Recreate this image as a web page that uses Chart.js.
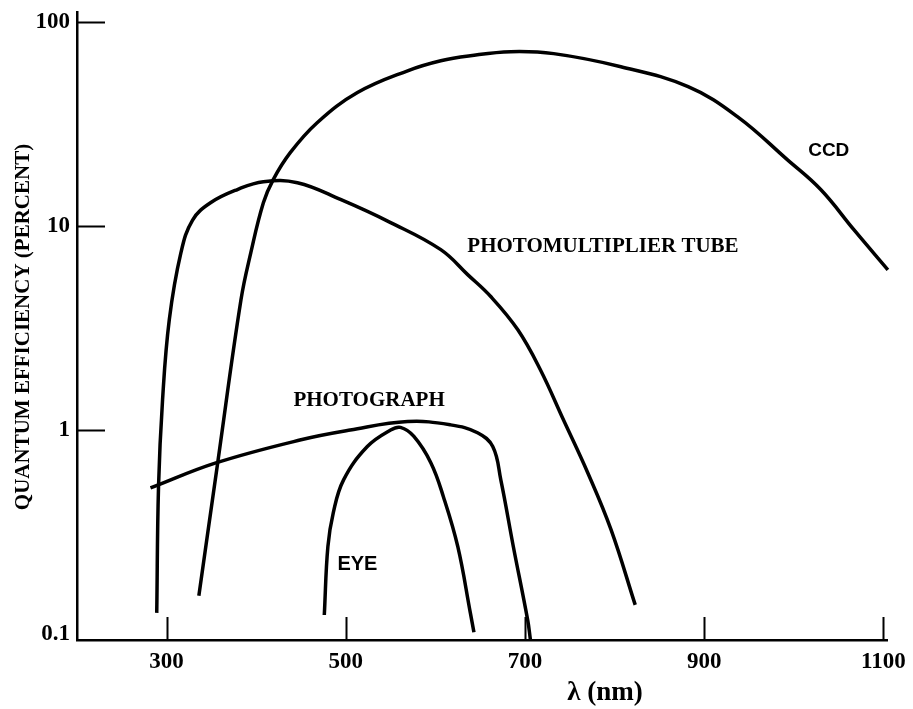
<!DOCTYPE html>
<html>
<head>
<meta charset="utf-8">
<script src="https://cdn.jsdelivr.net/npm/chart.js@4/dist/chart.umd.min.js"></script>
<style>
  body { margin: 0; background: #fff; }
  #wrap { width: 913px; height: 709px; }
</style>
</head>
<body>
<div id="wrap"><canvas id="qe" width="913" height="709"></canvas></div>
<script>
// wavelength (nm) / quantum efficiency (%)
const ccdWave = [336, 357, 383, 394, 408, 419, 438, 468, 513, 569, 606, 639, 684, 732, 807, 882, 937, 993, 1030, 1067, 1105];
const ccdQE   = [0.154, 0.69, 4.35, 7.4, 13.0, 16.9, 22.9, 32.1, 45.1, 57.7, 64.6, 68.4, 71.6, 70.0, 60.4, 48.2, 34.4, 21.1, 15.1, 9.6, 6.1];

const pmtWave = [289, 291, 295.5, 303, 316, 329, 349, 379, 408, 446, 494, 550, 606, 636, 662, 692, 717, 743, 770, 796, 823];
const pmtQE   = [0.127, 0.53, 1.41, 3.47, 7.4, 10.7, 13.0, 15.1, 16.5, 16.3, 13.5, 10.4, 7.66, 5.78, 4.5, 3.1, 1.98, 1.12, 0.618, 0.325, 0.139];

const photoWave = [282, 355, 450, 505, 569, 617, 647, 664, 673, 687, 703, 706];
const photoQE   = [0.52, 0.69, 0.896, 1.0, 1.10, 1.06, 0.97, 0.83, 0.57, 0.268, 0.117, 0.094];

const eyeWave = [476, 480, 486, 497.5, 524, 550, 561, 576, 595, 609, 625, 639, 643];
const eyeQE   = [0.124, 0.268, 0.393, 0.57, 0.83, 1.0, 1.03, 0.93, 0.69, 0.47, 0.268, 0.127, 0.102];

const xTicks = [300, 500, 700, 900, 1100];
const xTickLabels = ['300', '500', '700', '900', '1100'];
const yTicks = [0.1, 1, 10, 100];
const yTickLabels = ['0.1', '1', '10', '100'];

const curveNames = ['CCD', 'PHOTOMULTIPLIER TUBE', 'PHOTOGRAPH', 'EYE'];
// where each curve name sits, in data units (wavelength, QE)
const namePos = [[1039, 23.5], [787, 7.9], [526, 1.4], [513, 0.219]];
const nameFonts = ['bold 19px "Liberation Sans"', 'bold 21px "Liberation Serif"', 'bold 21px "Liberation Serif"', 'bold 20px "Liberation Sans"'];

const serif = '"Liberation Serif", "Times New Roman", serif';

function pts(xs, ys) { return xs.map((x, i) => ({ x: x, y: ys[i] })); }

function curve(label, xs, ys) {
  return {
    label: label,
    data: pts(xs, ys),
    showLine: true,
    borderColor: '#000',
    borderWidth: 3.5,
    pointRadius: 0,
    tension: 0.4,
    fill: false,
    clip: false
  };
}

// inward tick marks, curve names and axis titles
const decor = {
  id: 'decor',
  afterDraw(chart) {
    const c = chart.ctx, xs = chart.scales.x, ys = chart.scales.y, a = chart.chartArea;
    c.save();
    c.strokeStyle = '#000';
    c.lineWidth = 2;
    c.beginPath();
    yTicks.forEach(v => {
      if (v < 1) return;
      const py = Math.round(ys.getPixelForValue(v)) + 0.5;
      c.moveTo(a.left, py); c.lineTo(a.left + 28, py);
    });
    xTicks.forEach(v => {
      const px = Math.round(xs.getPixelForValue(v)) + 0.5;
      c.moveTo(px, a.bottom); c.lineTo(px, a.bottom - 23);
    });
    c.stroke();

    c.fillStyle = '#000';
    c.textAlign = 'center';
    c.textBaseline = 'middle';
    curveNames.forEach((t, i) => {
      c.font = nameFonts[i];
      c.fillText(t, xs.getPixelForValue(namePos[i][0]), ys.getPixelForValue(namePos[i][1]));
    });

    c.font = 'bold 27px ' + serif;
    c.fillText('λ (nm)', 605, 693);

    c.translate(24, 327);
    c.rotate(-Math.PI / 2);
    c.font = 'bold 21px ' + serif;
    c.fillText('QUANTUM EFFICIENCY (PERCENT)', 0, 0);
    c.restore();
  }
};

new Chart(document.getElementById('qe').getContext('2d'), {
  type: 'scatter',
  data: {
    datasets: [
      curve('CCD', ccdWave, ccdQE),
      curve('Photomultiplier tube', pmtWave, pmtQE),
      curve('Photograph', photoWave, photoQE),
      curve('Eye', eyeWave, eyeQE)
    ]
  },
  options: {
    responsive: false,
    animation: false,
    layout: { padding: { top: 12, right: 26, left: 0, bottom: 0 } },
    plugins: { legend: { display: false }, tooltip: { enabled: false } },
    scales: {
      x: {
        type: 'linear',
        min: 200,
        max: 1104,
        afterFit(s) { s.height = 69; s.paddingLeft = 0; s.paddingRight = 0; },
        afterBuildTicks(s) { s.ticks = xTicks.map(v => ({ value: v })); },
        grid: { display: false, drawTicks: false },
        border: { display: true, color: '#000', width: 2.5 },
        ticks: {
          padding: 8,
          color: '#000',
          font: { family: serif, size: 23, weight: 'bold' },
          maxRotation: 0,
          callback: (v, i) => xTickLabels[i]
        }
      },
      y: {
        type: 'logarithmic',
        min: 0.0935,
        max: 112,
        afterFit(s) { s.width = 77; s.paddingTop = 0; s.paddingBottom = 0; },
        afterBuildTicks(s) { s.ticks = yTicks.map(v => ({ value: v })); },
        grid: { display: false, drawTicks: false },
        border: { display: true, color: '#000', width: 2.5 },
        ticks: {
          padding: 7,
          color: '#000',
          font: { family: serif, size: 23, weight: 'bold' },
          callback: (v, i) => yTickLabels[i]
        }
      }
    }
  },
  plugins: [decor]
});
</script>
</body>
</html>
